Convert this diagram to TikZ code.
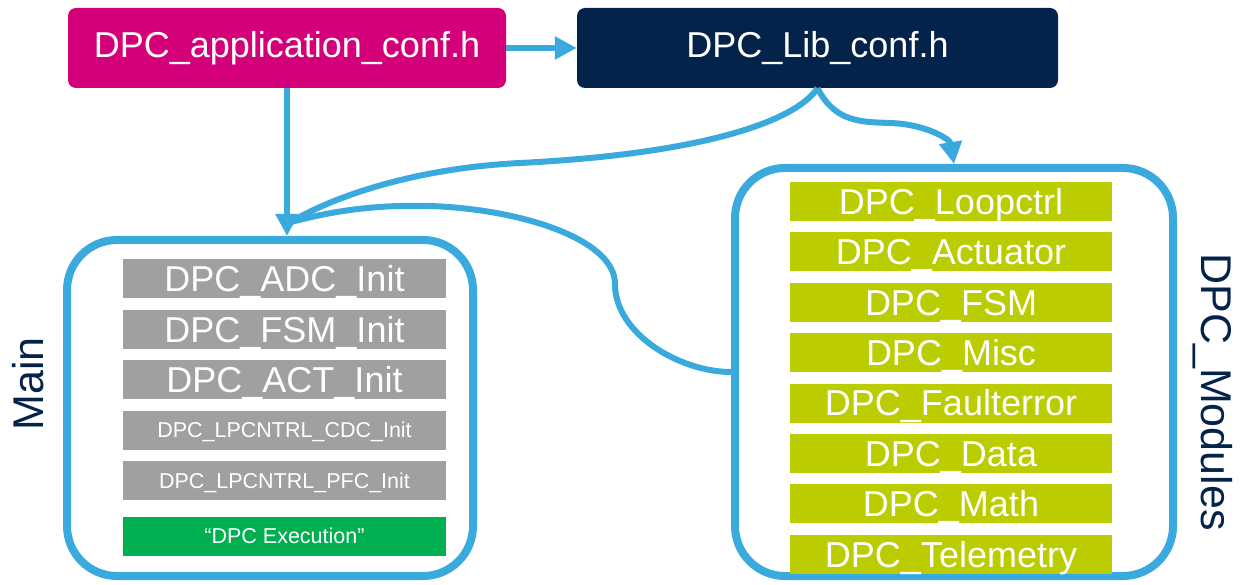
\documentclass[tikz,border=0pt]{standalone}
\usepackage{fontspec}
\setmainfont{Liberation Sans}
\usetikzlibrary{arrows.meta, positioning}
\definecolor{stpink}{HTML}{D4007A}
\definecolor{stnavy}{HTML}{03234B}
\definecolor{stblue}{HTML}{3AAADE}
\definecolor{stgrey}{HTML}{A0A0A0}
\definecolor{stlime}{HTML}{BBCC00}
\definecolor{stgreen}{HTML}{00B050}

\begin{document}
\begin{tikzpicture}[x=1pt, y=1pt,
  node distance = 11pt,
  cfg/.style     = {rounded corners=8pt, minimum height=80pt, inner sep=0pt,
                    text=white, font=\fontsize{36}{40}\selectfont},
  grp/.style     = {draw=stblue, line width=8pt, rounded corners=50pt, inner sep=0pt},
  initbox/.style = {fill=stgrey, minimum width=323pt, minimum height=39pt, inner sep=0pt,
                    text=white, text height=25.8pt, text depth=0pt,
                    font=\fontsize{36}{40}\selectfont},
  smallbox/.style= {initbox, text height=15.4pt, font=\fontsize{21.5}{24}\selectfont},
  modbox/.style  = {initbox, fill=stlime, minimum width=322pt},
  lbl/.style     = {text=stnavy, font=\fontsize{43}{48}\selectfont},
  arr/.style     = {-{Triangle[length=22pt, width=22pt]}, line width=6pt, stblue},
  link/.style    = {line width=6pt, stblue},
]
  \useasboundingbox (0,0) rectangle (1247,584);

  % config headers
  \node[cfg, fill=stpink, minimum width=438pt] (app) at (287,536) {DPC\_application\_conf.h};
  \node[cfg, fill=stnavy, minimum width=481pt] (lib) at (817.5,536) {DPC\_Lib\_conf.h};

  % group frames
  \node[grp, minimum width=406pt, minimum height=336pt] (main) at (270,176) {};
  \node[grp, minimum width=438pt, minimum height=408pt] (mods) at (954,212) {};
  \node[lbl, rotate=90]  (mainlbl) at (28,200)   {Main};
  \node[lbl, rotate=-90] (modlbl)  at (1213,192) {DPC\_Modules};

  % main: init calls
  \node[initbox] (adc) at (284.5,305) {DPC\_ADC\_Init};
  \node[initbox, below=of adc]  (fsm) {DPC\_FSM\_Init};
  \node[initbox, below=of fsm]  (act) {DPC\_ACT\_Init};
  \node[smallbox, below=of act] (cdc) {DPC\_LPCNTRL\_CDC\_Init};
  \node[smallbox, below=of cdc] (pfc) {DPC\_LPCNTRL\_PFC\_Init};
  \node[smallbox, fill=stgreen, below=16pt of pfc] (exe) {“DPC Execution”};

  % library modules
  \node[modbox] (loop) at (951,382.5) {DPC\_Loopctrl};
  \node[modbox, below=of loop]  (actu)  {DPC\_Actuator};
  \node[modbox, below=of actu]  (fsmm)  {DPC\_FSM};
  \node[modbox, below=of fsmm]  (misc)  {DPC\_Misc};
  \node[modbox, below=of misc]  (fault) {DPC\_Faulterror};
  \node[modbox, below=of fault] (data)  {DPC\_Data};
  \node[modbox, below=of data]  (math)  {DPC\_Math};
  \node[modbox, below=of math]  (tele)  {DPC\_Telemetry};

  % connectors
  \coordinate (join)  at (main.north -| app.south);
  \coordinate (merge) at (291,362);
  \draw[arr] (app) -- (lib);
  \draw[link] (lib.south) .. controls (795,462) and (700,430) .. (520,421)
              .. controls (400,415) and (320,380) .. (merge);
  \draw[link] (mods.west) .. controls (680,212) and (615,250) .. (615,300)
              .. controls (615,345) and (520,375) .. (430,378)
              .. controls (360,380) and (315,368) .. (merge);
  \draw[arr] (lib.south) .. controls (835,462) and (860,462) .. (890,461)
             .. controls (925,460) and (950,445) .. (mods.north);
  \draw[arr] (app.south) -- (join);
\end{tikzpicture}
\end{document}
